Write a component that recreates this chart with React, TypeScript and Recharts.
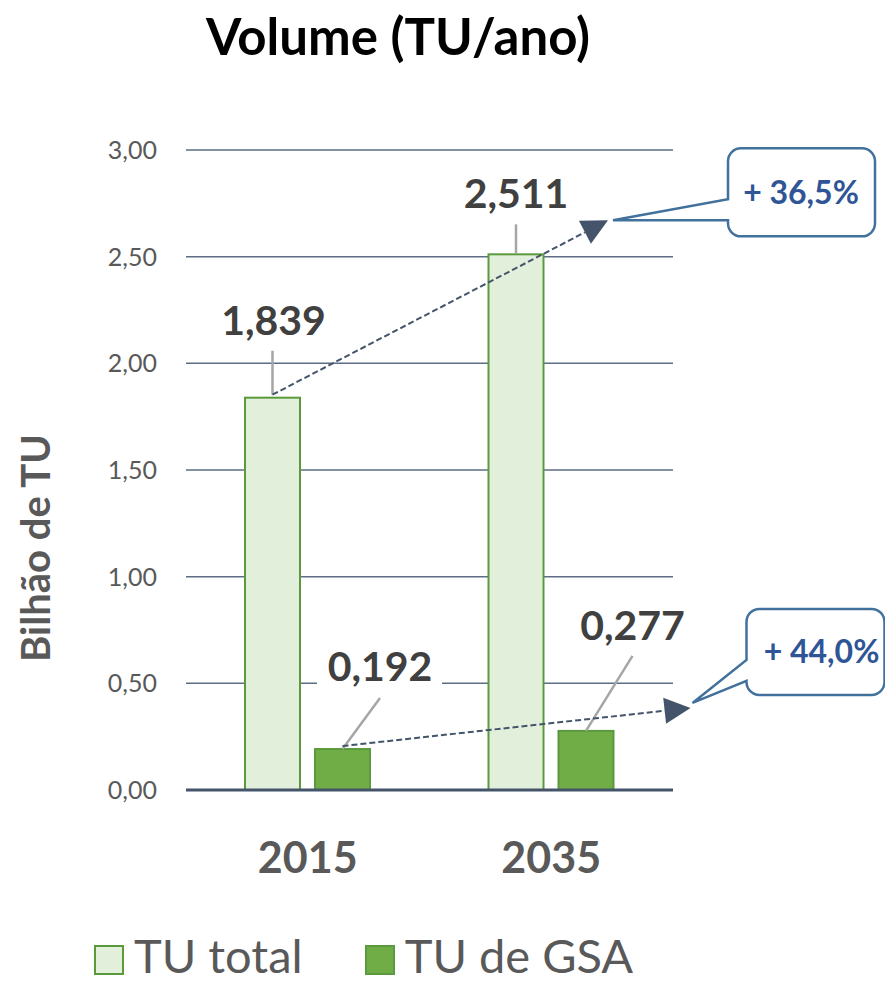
import React from "react";
import {
  BarChart,
  Bar,
  XAxis,
  YAxis,
  CartesianGrid,
  Legend,
  Customized,
} from "recharts";

// values
const years = ["2015", "2035"];
const tuTotal = [1.839, 2.511];
const tuGsa = [0.192, 0.277];
const growth = ["+ 36,5%", "+ 44,0%"];
const yTicks = [0, 0.5, 1, 1.5, 2, 2.5, 3];
const seriesNames = ["TU total", "TU de GSA"];

const data = years.map((year, i) => ({ year, total: tuTotal[i], gsa: tuGsa[i] }));

const W = 885;
const H = 983;
const FONT = "Lato, 'Open Sans', sans-serif";

const COLORS = {
  total: { fill: "#e2efda", stroke: "#5b9a3c" },
  gsa: { fill: "#70ad47", stroke: "#5b9a3c" },
};

// label / leader offsets from the bar top centre
const LABELS: Record<string, { dx: number; dy: number; l1: number[]; l2: number[] }[]> = {
  total: [
    { dx: 1, dy: -78, l1: [0, -3], l2: [0, -47] },
    { dx: 0, dy: -61, l1: [0, -1], l2: [0, -30] },
  ],
  gsa: [
    { dx: 37.5, dy: -83, l1: [0, 0], l2: [37.5, -51] },
    { dx: 46.5, dy: -106, l1: [0, 0], l2: [46.5, -75] },
  ],
};

// growth arrow + callout, relative to the second bar top / arrow tip
const ARROWS: Record<string, any> = {
  total: {
    tip: [92, -34],
    box: { dx: 120, dy: -72, w: 147, h: 88 },
    ptr: { tip: [5, 0], y1: -21, y2: 0 },
    text: [193, -27],
    label: growth[0],
  },
  gsa: {
    tip: [104.5, -23],
    box: { dx: 56, dy: -99, w: 138, h: 86 },
    ptr: { tip: [2, -5], y1: -48, y2: -27 },
    text: [131, -56],
    label: growth[1],
  },
};

const tops: Record<string, { x: number; y: number }[]> = { total: [], gsa: [] };

const fmt = (v: number, d: number) => v.toFixed(d).replace(".", ",");

function calloutPath(L: number, T: number, w: number, h: number, r: number, tx: number, ty: number, p1: number, p2: number) {
  const R = L + w;
  const B = T + h;
  return [
    `M${L + r},${T}`,
    `L${R - r},${T}`,
    `A${r},${r} 0 0 1 ${R},${T + r}`,
    `L${R},${B - r}`,
    `A${r},${r} 0 0 1 ${R - r},${B}`,
    `L${L + r},${B}`,
    `A${r},${r} 0 0 1 ${L},${B - r}`,
    `L${L},${p2}`,
    `L${tx},${ty}`,
    `L${L},${p1}`,
    `L${L},${T + r}`,
    `A${r},${r} 0 0 1 ${L + r},${T}`,
    "Z",
  ].join(" ");
}

function Growth({ from, top, cfg }: { from: { x: number; y: number }; top: { x: number; y: number }; cfg: any }) {
  const tip = { x: top.x + cfg.tip[0], y: top.y + cfg.tip[1] };
  const start = { x: from.x, y: from.y - 3 };
  const dx = tip.x - start.x;
  const dy = tip.y - start.y;
  const len = Math.sqrt(dx * dx + dy * dy);
  const ux = dx / len;
  const uy = dy / len;
  const base = { x: tip.x - ux * 26, y: tip.y - uy * 26 };
  const head = `${tip.x},${tip.y} ${base.x - uy * 13},${base.y + ux * 13} ${base.x + uy * 13},${base.y - ux * 13}`;
  const L = tip.x + cfg.box.dx;
  const T = tip.y + cfg.box.dy;
  return (
    <g>
      <line x1={start.x} y1={start.y} x2={base.x} y2={base.y} stroke="#44546a" strokeWidth={2} strokeDasharray="6 3" />
      <polygon points={head} fill="#44546a" />
      <path
        d={calloutPath(L, T, cfg.box.w, cfg.box.h, 13, tip.x + cfg.ptr.tip[0], tip.y + cfg.ptr.tip[1], tip.y + cfg.ptr.y1, tip.y + cfg.ptr.y2)}
        fill="#fff"
        stroke="#41719c"
        strokeWidth={2.5}
      />
      <text
        x={tip.x + cfg.text[0]}
        y={tip.y + cfg.text[1] + 11}
        textAnchor="middle"
        fontFamily={FONT}
        fontWeight={700}
        fontSize={32}
        fill="#2f5597"
      >
        {cfg.label}
      </text>
    </g>
  );
}

function makeShape(key: "total" | "gsa") {
  return (props: any) => {
    const { x, y, width, height, index } = props;
    const value = props.payload[key];
    const top = { x: x + width / 2, y };
    tops[key][index] = top;
    const lab = LABELS[key][index];
    const cx = top.x + lab.dx;
    const cy = top.y + lab.dy;
    return (
      <g>
        <rect x={x} y={y} width={width} height={height} fill={COLORS[key].fill} stroke={COLORS[key].stroke} strokeWidth={2} />
        <line
          x1={top.x + lab.l1[0]}
          y1={top.y + lab.l1[1]}
          x2={top.x + lab.l2[0]}
          y2={top.y + lab.l2[1]}
          stroke="#a6a6a6"
          strokeWidth={2.5}
        />
        <rect x={cx - 63} y={cy - 20} width={125} height={40} fill="#fff" />
        <text x={cx} y={cy + 15} textAnchor="middle" fontFamily={FONT} fontWeight={700} fontSize={41} fill="#404040">
          {fmt(value, 3)}
        </text>
        {index === 1 && tops[key][0] && <Growth from={tops[key][0]} top={top} cfg={ARROWS[key]} />}
      </g>
    );
  };
}

function Title() {
  return (
    <g>
      <text x={398} y={55} textAnchor="middle" fontFamily={FONT} fontWeight={700} fontSize={51} fill="#000">
        Volume (TU/ano)
      </text>
      <text
        transform="translate(50,548) rotate(-90)"
        textAnchor="middle"
        fontFamily={FONT}
        fontWeight={700}
        fontSize={40}
        fill="#595959"
      >
        Bilhão de TU
      </text>
    </g>
  );
}

function LegendBox() {
  const keys: ("total" | "gsa")[] = ["total", "gsa"];
  return (
    <div
      style={{
        display: "flex",
        alignItems: "flex-end",
        height: 46,
        boxSizing: "border-box",
        paddingLeft: 94,
        paddingBottom: 4,
        fontFamily: FONT,
      }}
    >
      {keys.map((k, i) => (
        <div key={k} style={{ display: "flex", alignItems: "flex-end", marginRight: 62 }}>
          <div
            style={{
              width: 26,
              height: 26,
              background: COLORS[k].fill,
              border: `2px solid ${COLORS[k].stroke}`,
              marginRight: 10,
              marginBottom: 4,
            }}
          />
          <span style={{ fontSize: 47, lineHeight: 1, color: "#595959" }}>{seriesNames[i]}</span>
        </div>
      ))}
    </div>
  );
}

export default function App() {
  return (
    <div style={{ position: "absolute", left: 0, top: 0, width: W, height: H, background: "#fff" }}>
      <BarChart
        width={W}
        height={H}
        data={data}
        margin={{ top: 150, right: 212, bottom: 0, left: 0 }}
        barSize={55}
        barGap={15}
      >
        <CartesianGrid vertical={false} stroke="#5d6d85" strokeWidth={1.5} />
        <XAxis
          dataKey="year"
          height={147}
          axisLine={{ stroke: "#44546a", strokeWidth: 3 }}
          tickLine={false}
          tickSize={0}
          tickMargin={52}
          tick={{ fontFamily: FONT, fontWeight: 700, fontSize: 43, fill: "#595959" }}
        />
        <YAxis
          width={186}
          domain={[0, 3]}
          ticks={yTicks}
          axisLine={false}
          tickLine={false}
          tickSize={0}
          tickMargin={29}
          tickFormatter={(v: number) => fmt(v, 2)}
          tick={{ fontFamily: FONT, fontSize: 25, fill: "#595959" }}
        />
        <Legend
          verticalAlign="bottom"
          content={() => <LegendBox />}
          wrapperStyle={{ left: 0, bottom: 0, width: W, height: 46 }}
        />
        <Bar dataKey="total" name={seriesNames[0]} fill={COLORS.total.fill} shape={makeShape("total")} isAnimationActive={false} />
        <Bar dataKey="gsa" name={seriesNames[1]} fill={COLORS.gsa.fill} shape={makeShape("gsa")} isAnimationActive={false} />
        <Customized component={<Title />} />
      </BarChart>
    </div>
  );
}
